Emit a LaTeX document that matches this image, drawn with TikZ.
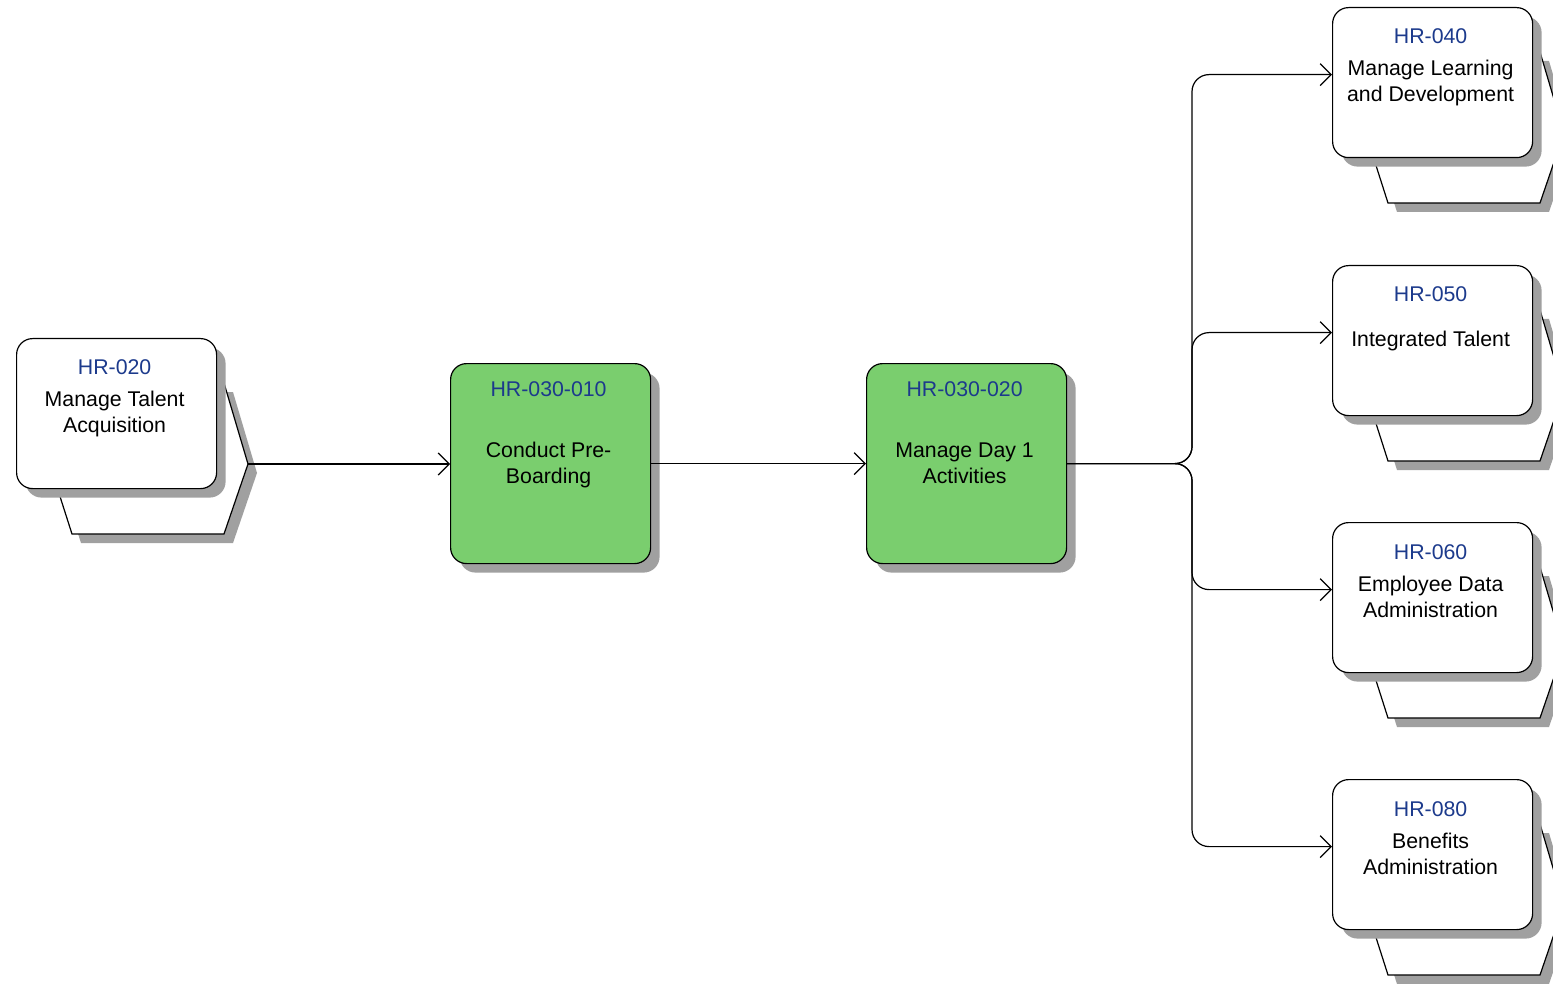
\documentclass[tikz,border=0pt]{standalone}
\usepackage{fontspec}
\setmainfont{Liberation Sans}
\usetikzlibrary{arrows.meta,shadows,calc}
\definecolor{procgreen}{RGB}{122,206,110}
\definecolor{codeblue}{RGB}{28,58,140}
\definecolor{shadowgrey}{RGB}{160,160,160}
\tikzset{
  procbox/.style={draw=black, line width=1.2pt, rounded corners=16pt,
    minimum width=200pt, minimum height=150pt, inner sep=0pt, fill=white,
    drop shadow={shadow xshift=9pt, shadow yshift=-9pt, fill=shadowgrey, opacity=1}},
  actbox/.style={procbox, fill=procgreen, minimum height=200pt},
  codetext/.style={text=codeblue, font=\fontsize{21.3}{26}\selectfont, anchor=base, inner sep=0pt},
  titletext/.style={font=\fontsize{21.3}{26}\selectfont, align=center, anchor=base, inner sep=0pt},
  backshape/.style={draw=black, line width=1.2pt, fill=white},
  flow/.style={line width=1.2pt, -{Straight Barb[length=11pt,width=22pt,line width=1.2pt]}},
  pics/procback/.style={code={
    \fill[shadowgrey] (65,54) -- (217,54) -- (241,135) -- (217,205) -- (65,205) -- (41,130) -- cycle;
    \draw[backshape] (56,45) -- (208,45) -- (232,126) -- (208,196) -- (56,196) -- (32,121) -- cycle;
    \coordinate (-tip) at (232,126);
  }},
}
\begin{document}
\begin{tikzpicture}[x=1pt,y=-1pt]
  \useasboundingbox (0,0) rectangle (1553,984);
  \clip (0,0) rectangle (1553,984);
  \fill[white] (0,0) rectangle (1553,984);

  % HR-020
  \pic (b020) at (16,338) {procback};
  \node[procbox, anchor=north west] (r020) at (16,338) {};
  \node[codetext] (c020) at ($(r020.north)+(-2,36)$) {HR-020};
  \node[titletext] (t020) at ($(r020.north)+(-2,94)$) {Manage Talent\\Acquisition};

  % HR-030-010
  \node[actbox, anchor=north west] (g1) at (450,363) {};
  \node[codetext] (cg1) at ($(g1.north)+(-2,33)$) {HR-030-010};
  \node[titletext] (tg1) at ($(g1.north)+(-2,120)$) {Conduct Pre-\\Boarding};

  % HR-030-020
  \node[actbox, anchor=north west] (g2) at (866,363) {};
  \node[codetext] (cg2) at ($(g2.north)+(-2,33)$) {HR-030-020};
  \node[titletext] (tg2) at ($(g2.north)+(-2,120)$) {Manage Day 1\\Activities};

  % HR-040
  \pic (b040) at (1332,7) {procback};
  \node[procbox, anchor=north west] (r040) at (1332,7) {};
  \node[codetext] (c040) at ($(r040.north)+(-2,37)$) {HR-040};
  \node[titletext] (t040) at ($(r040.north)+(-2,95)$) {Manage Learning\\and Development};

  % HR-050
  \pic (b050) at (1332,265) {procback};
  \node[procbox, anchor=north west] (r050) at (1332,265) {};
  \node[codetext] (c050) at ($(r050.north)+(-2,37)$) {HR-050};
  \node[titletext] (t050) at ($(r050.north)+(-2,82)$) {Integrated Talent};

  % HR-060
  \pic (b060) at (1332,522) {procback};
  \node[procbox, anchor=north west] (r060) at (1332,522) {};
  \node[codetext] (c060) at ($(r060.north)+(-2,37)$) {HR-060};
  \node[titletext] (t060) at ($(r060.north)+(-2,95)$) {Employee Data\\Administration};

  % HR-080
  \pic (b080) at (1332,779) {procback};
  \node[procbox, anchor=north west] (r080) at (1332,779) {};
  \node[codetext] (c080) at ($(r080.north)+(-2,37)$) {HR-080};
  \node[titletext] (t080) at ($(r080.north)+(-2,95)$) {Benefits\\Administration};

  % connectors
  \draw[flow] (b020-tip) -- (b020-tip -| g1.west);
  \draw[flow] (g1.east) -- (g2.west);
  \coordinate (split) at (g2.east -| 1192,0);
  \foreach \t in {r040,r050,r060,r080}{
    \draw[flow, rounded corners=17pt] (g2.east) -- (split) |- ($(\t.west)+(0,-8)$);
  }
\end{tikzpicture}
\end{document}
